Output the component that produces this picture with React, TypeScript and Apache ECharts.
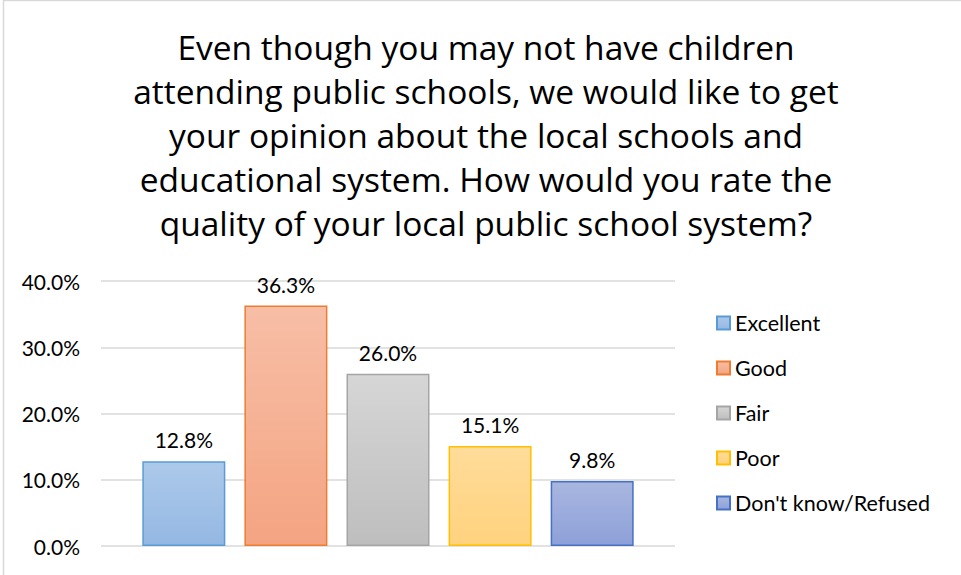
import React, { useEffect, useRef } from "react";
import * as echarts from "echarts";

const titleLines = [
  "Even though you may not have children",
  "attending public schools, we would like to get",
  "your opinion about the local schools and",
  "educational system. How would you rate the",
  "quality of your local public school system?",
];
const categories = ["Excellent", "Good", "Fair", "Poor", "Don't know/Refused"];
const values = [12.8, 36.3, 26.0, 15.1, 9.8];
const yMin = 0;
const yMax = 40;
const yInterval = 10;

const fillTop = ["#ADC9EA", "#F7BEA6", "#D6D6D6", "#FFDC9A", "#A9B6E0"];
const fillBottom = ["#94B8E3", "#F4A482", "#BEBEBE", "#FFD27E", "#8DA0D8"];
const borders = ["#5B9BD5", "#ED7D31", "#A5A5A5", "#FFC000", "#4472C4"];

const FONT = "Lato, 'Liberation Sans', sans-serif";
const TITLE_FONT = "'Open Sans', Lato, sans-serif";

export default function App() {
  const ref = useRef<HTMLDivElement>(null);
  useEffect(() => {
    if (!ref.current) return;
    const chart = echarts.init(ref.current, undefined, { renderer: "svg" });
    const series = categories.map((name, i) => ({
      name,
      type: "bar",
      data: [values[i]],
      barWidth: 83,
      barGap: "23%",
      itemStyle: {
        color: new echarts.graphic.LinearGradient(0, 0, 0, 1, [
          { offset: 0, color: fillTop[i] },
          { offset: 1, color: fillBottom[i] },
        ]),
        borderColor: borders[i],
        borderWidth: 1.5,
      },
      label: {
        show: true,
        position: "top",
        distance: 11,
        formatter: (p: any) => p.value.toFixed(1) + "%",
        fontFamily: FONT,
        fontSize: 21,
        color: "#000",
      },
    }));
    chart.setOption({
      animation: false,
      backgroundColor: "#fff",
      title: {
        text: titleLines.join("\n"),
        left: 481,
        top: 20,
        textAlign: "center",
        textStyle: {
          fontFamily: TITLE_FONT,
          fontSize: 33.5,
          fontWeight: "normal",
          color: "#000",
          lineHeight: 44,
          align: "center",
        },
      },
      legend: {
        orient: "vertical",
        left: 711,
        top: 307,
        itemWidth: 13,
        itemHeight: 13,
        itemGap: 23,
        icon: "rect",
        textStyle: {
          fontFamily: FONT,
          fontSize: 21.5,
          color: "#000",
          lineHeight: 22,
        },
        data: categories,
      },
      grid: { left: 101, right: 286, top: 281, bottom: 29, containLabel: false },
      xAxis: {
        type: "category",
        data: [""],
        axisLine: { show: false },
        axisTick: { show: false },
        axisLabel: { show: false },
      },
      yAxis: {
        type: "value",
        min: yMin,
        max: yMax,
        interval: yInterval,
        axisLine: { show: false },
        axisTick: { show: false },
        splitLine: { lineStyle: { color: "#D9D9D9", width: 1.5 } },
        axisLabel: {
          formatter: (v: number) => v.toFixed(1) + "%",
          fontFamily: FONT,
          fontSize: 21,
          color: "#000",
          margin: 21,
        },
      },
      graphic: [
        {
          type: "rect",
          shape: { x: 3.5, y: 0.5, width: 1000, height: 1000 },
          style: { fill: "none", stroke: "#D9D9D9", lineWidth: 1.5 },
          silent: true,
        },
      ],
      series,
    });
    return () => chart.dispose();
  }, []);
  return (
    <div
      ref={ref}
      style={{ position: "fixed", left: 0, top: 0, width: 961, height: 575 }}
    />
  );
}
